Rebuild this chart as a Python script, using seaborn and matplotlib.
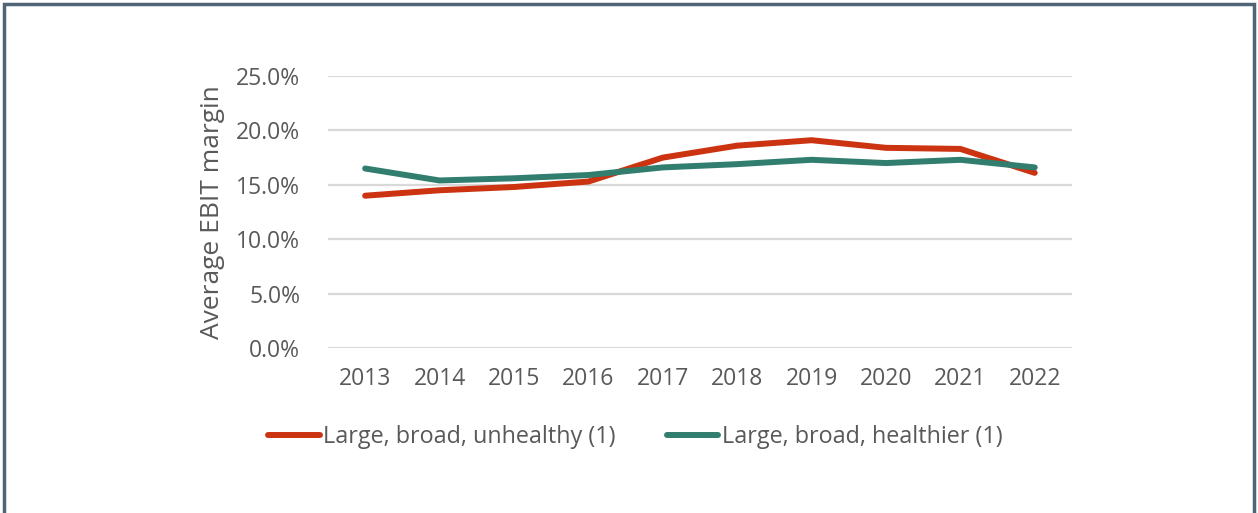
import numpy as np
import pandas as pd
import matplotlib
matplotlib.use("Agg")
import matplotlib.pyplot as plt
import seaborn as sns
from matplotlib.patches import Rectangle
from matplotlib.ticker import FuncFormatter

years = [2013, 2014, 2015, 2016, 2017, 2018, 2019, 2020, 2021, 2022]
unhealthy = [14.0, 14.5, 14.8, 15.3, 17.5, 18.6, 19.1, 18.4, 18.3, 16.1]
healthier = [16.5, 15.4, 15.6, 15.9, 16.6, 16.9, 17.3, 17.0, 17.3, 16.6]
series_names = ["Large, broad, unhealthy (1)", "Large, broad, healthier (1)"]
y_ticks = [0, 5, 10, 15, 20, 25]

df = pd.DataFrame({
    "year": years * 2,
    "margin": unhealthy + healthier,
    "series": [series_names[0]] * len(years) + [series_names[1]] * len(years),
})
df["pos"] = df["year"].map({y: i for i, y in enumerate(years)})

sns.set_theme(style="white")
plt.rcParams["font.family"] = ["Open Sans", "DejaVu Sans"]

text_color = "#595959"
palette = {series_names[0]: "#CC3311", series_names[1]: "#317D6E"}

fig = plt.figure(figsize=(12.58, 5.13), dpi=100)
ax = fig.add_axes([0.2607, 0.3216, 0.5914, 0.5302])

sns.lineplot(
    data=df,
    x="pos",
    y="margin",
    hue="series",
    palette=palette,
    linewidth=4.3,
    ax=ax,
    legend=False,
)

ax.set_xlim(-0.5, len(years) - 0.5)
ax.set_ylim(0, 25)
ax.set_yticks(y_ticks)
ax.yaxis.set_major_formatter(FuncFormatter(lambda v, p: f"{v:.1f}%"))
ax.set_xticks(range(len(years)))
ax.set_xticklabels([str(y) for y in years])
ax.grid(axis="y", color="#d9d9d9", linewidth=1.6)
ax.set_axisbelow(True)
for s in ax.spines.values():
    s.set_visible(False)
ax.tick_params(axis="both", length=0, labelsize=16.5, colors=text_color)
ax.tick_params(axis="y", pad=20)
ax.tick_params(axis="x", pad=14)
ax.set_xlabel("")
ax.set_ylabel("Average EBIT margin", fontsize=19, color=text_color, labelpad=8)

# legend
handles = [plt.Line2D([], [], color=palette[n], linewidth=4.3, solid_capstyle="round") for n in series_names]
fig.legend(
    handles,
    series_names,
    loc="center",
    bbox_to_anchor=(0.505, 0.148),
    ncol=2,
    frameon=False,
    fontsize=16.8,
    labelcolor=text_color,
    handlelength=2.2,
    handletextpad=0.15,
    columnspacing=2.2,
)

# outer border
fig.patches.append(Rectangle((0.003, -0.01), 0.994, 1.002, transform=fig.transFigure,
                             fill=False, edgecolor="#4f6577", linewidth=2.5))

fig.savefig("out.png", dpi=100)
